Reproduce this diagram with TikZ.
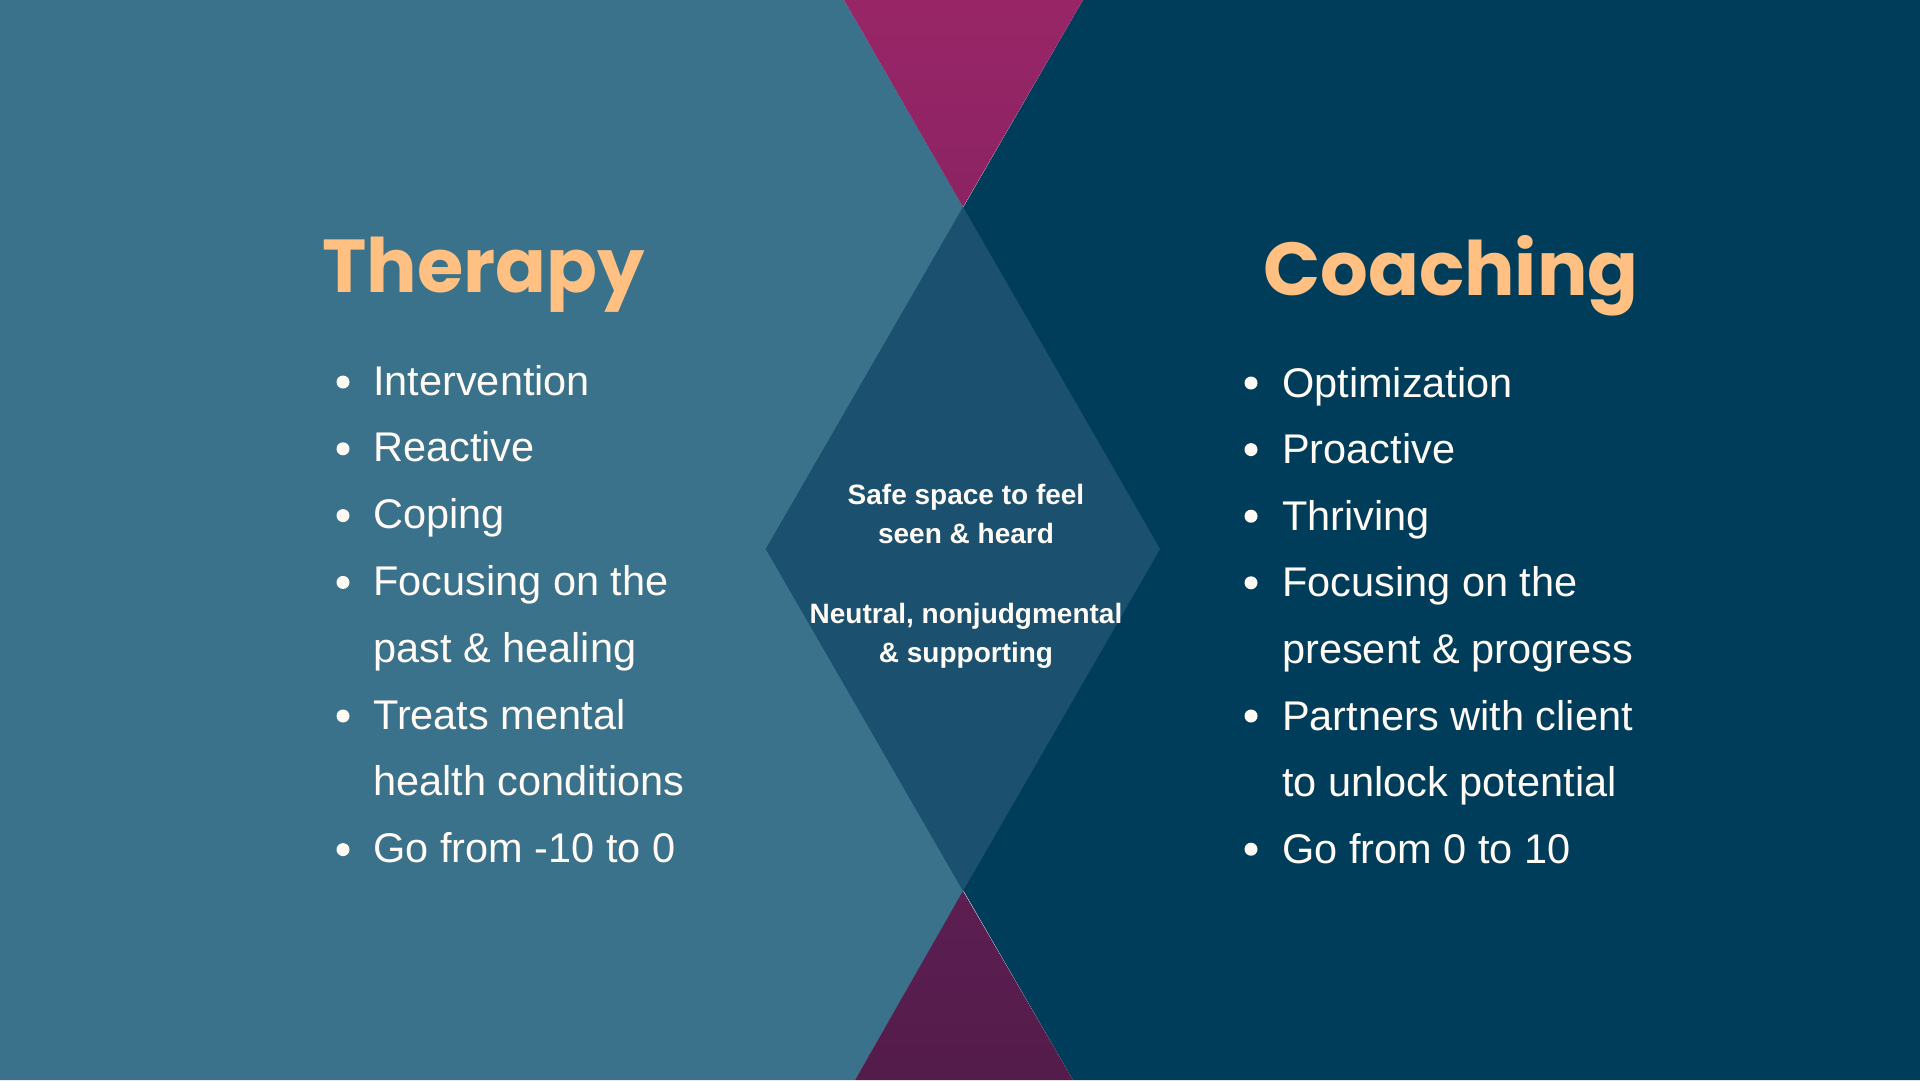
\documentclass[tikz,border=0pt]{standalone}
\usepackage{fontspec}
\setmainfont{Liberation Sans}
\newfontfamily\headfont{Poppins}
\usetikzlibrary{positioning,calc}

\definecolor{leftblue}{HTML}{3A718B}
\definecolor{rightnavy}{HTML}{003D5B}
\definecolor{overlap}{HTML}{1B516F}
\definecolor{plumtop}{HTML}{982667}
\definecolor{plumtopend}{HTML}{8C2363}
\definecolor{plumlow}{HTML}{5D1E52}
\definecolor{plumlowend}{HTML}{531C4A}
\definecolor{peach}{HTML}{FFC081}
\definecolor{cream}{HTML}{FFFAF3}

\begin{document}
\begin{tikzpicture}[
        x=1pt, y=1pt,
        heading/.style={anchor=base west, inner sep=0pt, font=\fontsize{75}{75}\headfont\bfseries\color{peach}},
        item/.style={anchor=base west, inner sep=0pt, font=\fontsize{41.5}{41.5}\selectfont\color{cream}},
        dot/.style={circle, fill=cream, inner sep=0pt, minimum size=13pt},
        midtext/.style={anchor=base, inner sep=0pt, font=\fontsize{28}{28}\selectfont\bfseries\color{cream}}
    ]
        \useasboundingbox (0,0) rectangle (1920,-1080);

        % Panels
        \fill[leftblue] (0,0) -- (844,0) -- (1160,-549) -- (855,-1080) -- (0,-1080) -- cycle;
        \fill[rightnavy] (1920,0) -- (1083,0) -- (766,-549) -- (1073,-1080) -- (1920,-1080) -- cycle;
        \fill[overlap] (963,-207) -- (1160,-549) -- (963,-891) -- (766,-549) -- cycle;
        \shade[top color=plumtop, bottom color=plumtopend] (844,0) -- (1083,0) -- (963,-207) -- cycle;
        \shade[top color=plumlow, bottom color=plumlowend] (963,-891) -- (1073,-1080) -- (855,-1080) -- cycle;


        % Therapy
        \node (therapy) at (322,-292) [heading] {Therapy};
        \node (t1) at (373,-395) [item] {Intervention};
            \node (t2) at ($(t1.base west)+(0,-66.8)$) [item] {Reactive};
            \node (t3) at ($(t2.base west)+(0,-66.8)$) [item] {Coping};
            \node (t4) at ($(t3.base west)+(0,-66.8)$) [item] {Focusing on the};
            \node (t5) at ($(t4.base west)+(0,-66.8)$) [item] {past \& healing};
            \node (t6) at ($(t5.base west)+(0,-66.8)$) [item] {Treats mental};
            \node (t7) at ($(t6.base west)+(0,-66.8)$) [item] {health conditions};
            \node (t8) at ($(t7.base west)+(0,-66.8)$) [item] {Go from -10 to 0};

        \node (tdot1) at ($(t1.base west)+(-30,13)$) [dot] {};
        \node (tdot2) at ($(t2.base west)+(-30,13)$) [dot] {};
        \node (tdot3) at ($(t3.base west)+(-30,13)$) [dot] {};
        \node (tdot4) at ($(t4.base west)+(-30,13)$) [dot] {};
        \node (tdot6) at ($(t6.base west)+(-30,13)$) [dot] {};
        \node (tdot8) at ($(t8.base west)+(-30,13)$) [dot] {};


        % Coaching
        \node (coaching) at (1263,-295) [heading] {Coaching};
        \node (c1) at (1282,-397) [item] {Optimization};
            \node (c2) at ($(c1.base west)+(0,-66.6)$) [item] {Proactive};
            \node (c3) at ($(c2.base west)+(0,-66.6)$) [item] {Thriving};
            \node (c4) at ($(c3.base west)+(0,-66.6)$) [item] {Focusing on the};
            \node (c5) at ($(c4.base west)+(0,-66.6)$) [item] {present \& progress};
            \node (c6) at ($(c5.base west)+(0,-66.6)$) [item] {Partners with client};
            \node (c7) at ($(c6.base west)+(0,-66.6)$) [item] {to unlock potential};
            \node (c8) at ($(c7.base west)+(0,-66.6)$) [item] {Go from 0 to 10};

        \node (cdot1) at ($(c1.base west)+(-31,14)$) [dot] {};
        \node (cdot2) at ($(c2.base west)+(-31,14)$) [dot] {};
        \node (cdot3) at ($(c3.base west)+(-31,14)$) [dot] {};
        \node (cdot4) at ($(c4.base west)+(-31,14)$) [dot] {};
        \node (cdot6) at ($(c6.base west)+(-31,14)$) [dot] {};
        \node (cdot8) at ($(c8.base west)+(-31,14)$) [dot] {};


        % Shared ground
        \node (safe) at (966,-504) [midtext] {Safe space to feel};
        \node (seen) at ($(safe.base)+(0,-39)$) [midtext] {seen \& heard};
        \node (neutral) at ($(seen.base)+(0,-80)$) [midtext] {Neutral, nonjudgmental};
        \node (support) at ($(neutral.base)+(0,-39)$) [midtext] {\& supporting};
    \end{tikzpicture}
\end{document}
